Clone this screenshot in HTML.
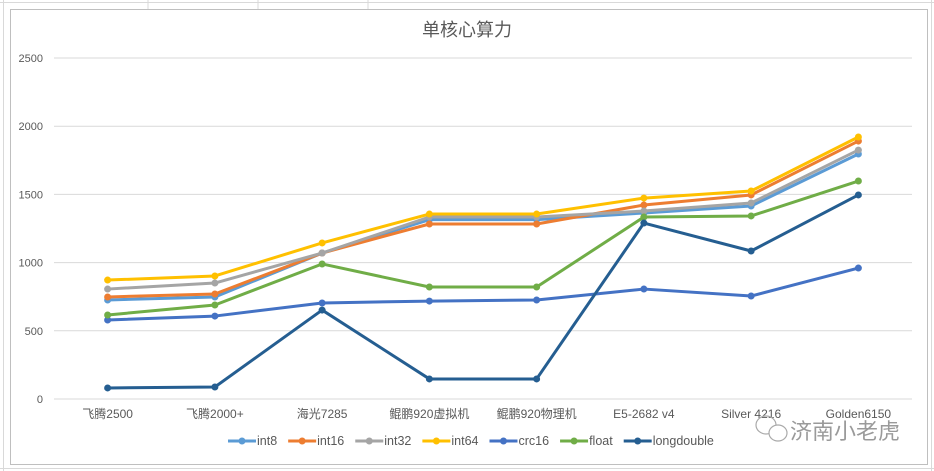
<!DOCTYPE html>
<html><head><meta charset="utf-8"><style>
html,body{margin:0;padding:0;background:#fff;width:934px;height:471px;overflow:hidden}
svg{display:block;font-family:"Liberation Sans","Noto Sans CJK SC",sans-serif}
</style></head><body>
<svg id="c" width="934" height="471">
<rect x="0" y="0" width="934" height="471" fill="#fff"/>
<g stroke="#d9d9d9" stroke-width="1">
<line x1="0" y1="2.5" x2="934" y2="2.5"/><line x1="0" y1="468.5" x2="934" y2="468.5"/>
<line x1="148" y1="0" x2="148" y2="9"/><line x1="258" y1="0" x2="258" y2="9"/><line x1="368" y1="0" x2="368" y2="9"/>
<line x1="3.5" y1="0" x2="3.5" y2="471"/><line x1="931.5" y1="0" x2="931.5" y2="471"/>
</g>
<rect x="10.5" y="9.5" width="917" height="455" fill="#fff" stroke="#bfbfbf"/>
<text x="467" y="36" text-anchor="middle" font-size="18" fill="#595959">单核心算力</text>
<g id="grid"></g><g id="xl"></g><g id="series"></g><g id="legend"></g>
<text x="790" y="439" font-size="22" fill="#9a9a9a">济南小老虎</text>
<g fill="none" stroke="#aaa" stroke-width="1.2">
<ellipse cx="766" cy="425" rx="10" ry="9"/><ellipse cx="778" cy="433" rx="9" ry="8" fill="#fff"/>
</g>
</svg>
<script>
const categories=["飞腾2500","飞腾2000+","海光7285","鲲鹏920虚拟机","鲲鹏920物理机","E5-2682 v4","Silver 4216","Golden6150"];
const yTicks=[0,500,1000,1500,2000,2500];
const seriesNames=["int8","int16","int32","int64","crc16","float","longdouble"];
const seriesColors=["#5b9bd5","#ed7d31","#a5a5a5","#ffc000","#4472c4","#70ad47","#255e91"];
const int8=[726,748,1070,1315,1315,1364,1415,1796];
const int16=[748,770,1070,1283,1283,1422,1496,1891];
const int32=[806,850,1070,1334,1334,1378,1437,1825];
const int64=[872,902,1144,1356,1356,1473,1525,1921];
const crc16=[579,608,704,718,726,806,755,960];
const floatS=[616,689,990,821,821,1334,1342,1598];
const longdouble=[81,88,652,147,147,1290,1085,1496];
const seriesValues=[int8,int16,int32,int64,crc16,floatS,longdouble];
const NS="http://www.w3.org/2000/svg";
const X0=54,X1=912,Y0=399,Ymax=2500,H=341;
const yS=v=>Y0-v/Ymax*H;
const xS=i=>X0+(X1-X0)/categories.length*(i+0.5);
function mk(t,a,p){const e=document.createElementNS(NS,t);for(const k in a)e.setAttribute(k,a[k]);p.appendChild(e);return e;}
const g=document.getElementById('grid');
yTicks.forEach(t=>{
 const l=mk('line',{x1:X0,x2:X1,y1:yS(t),y2:yS(t),stroke:'#d9d9d9','stroke-width':1},g);
 
 
 const tx=mk('text',{x:43,y:yS(t)+4,'text-anchor':'end','font-size':11,fill:'#595959'},g);
 tx.textContent=t;
 
 
});
const xl=document.getElementById('xl');
categories.forEach((c,i)=>{
 const tx=mk('text',{x:xS(i),y:418,'text-anchor':'middle','font-size':12,fill:'#595959'},xl);
 tx.textContent=c;
 
 
});
const sg=document.getElementById('series');
seriesValues.forEach((vals,s)=>{
 const grp=mk('g',{},sg);
 
 
 const pts=vals.map((v,i)=>xS(i)+','+yS(v)).join(' ');
 const pl=mk('polyline',{points:pts,fill:'none',stroke:seriesColors[s],'stroke-width':3,'stroke-linejoin':'round'},grp);
 
 
 vals.forEach((v,i)=>{
  const c=mk('circle',{cx:xS(i),cy:yS(v),r:3.5,fill:seriesColors[s]},grp);
  
  
 });
});
const lg=document.getElementById('legend');
let x=228;
seriesNames.forEach((n,s)=>{
 const e=mk('g',{},lg);
 
 
 mk('line',{x1:x,x2:x+28,y1:441,y2:441,stroke:seriesColors[s],'stroke-width':3},e);
 mk('circle',{cx:x+14,cy:441,r:3.5,fill:seriesColors[s]},e);
 const t=mk('text',{x:x+29,y:445,'font-size':12.5,fill:'#595959'},e);
 t.textContent=n;
 x+=29+t.getComputedTextLength()+11;
});
</script>
</body></html>
